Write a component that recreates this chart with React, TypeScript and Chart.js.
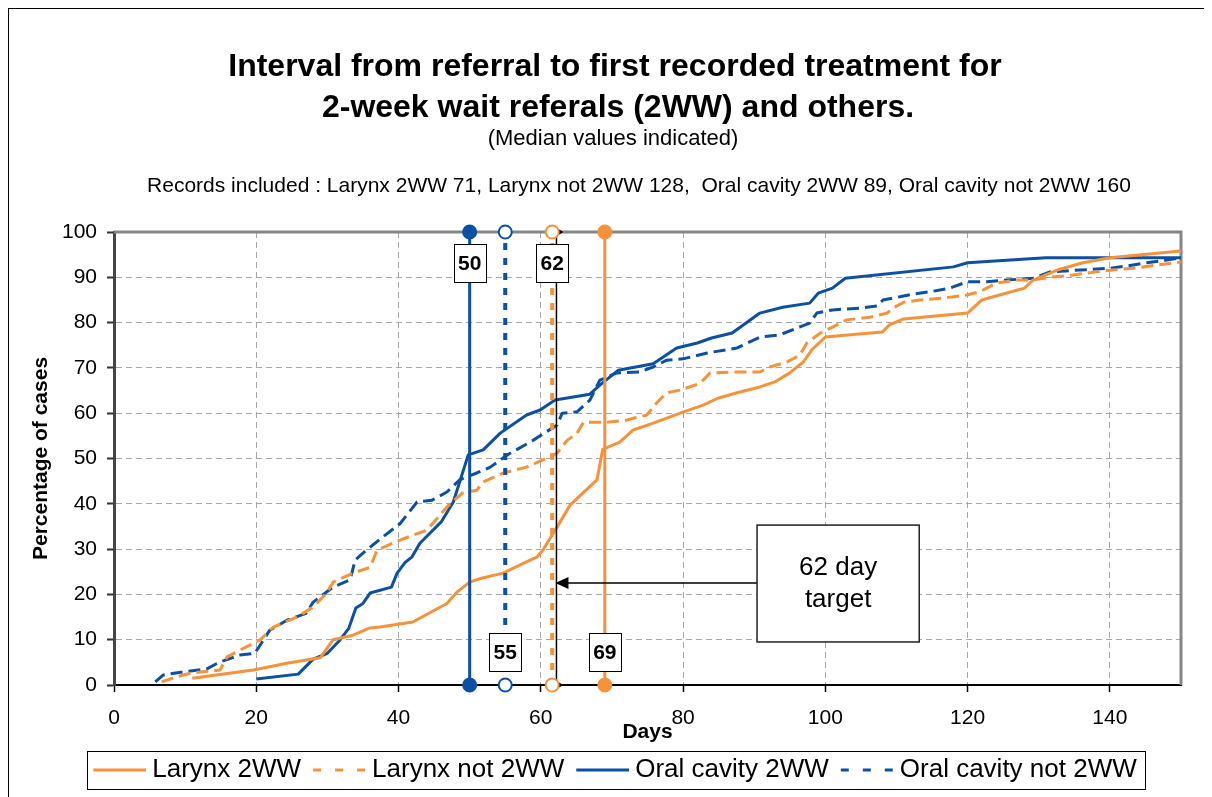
import React, { useEffect, useRef } from 'react';
import { Chart, registerables } from 'chart.js';

Chart.register(...registerables);

const FONT = '"Liberation Sans", Arial, Helvetica, sans-serif';
const ORANGE = '#F5923A';
const BLUE = '#0C50A4';

const TITLE_LINES = [
  'Interval from referral to first recorded treatment for',
  '2-week wait referals (2WW) and others.',
];
const SUBTITLE = '(Median values indicated)';
const RECORDS =
  'Records included : Larynx 2WW 71, Larynx not 2WW 128,  Oral cavity 2WW 89, Oral cavity not 2WW 160';

const SERIES_LABELS = ['Larynx 2WW', 'Larynx not 2WW', 'Oral cavity 2WW', 'Oral cavity not 2WW'];

// Larynx 2WW (days, % of cases)
const LARYNX_2WW_DAYS = [11, 19.6, 24.3, 29, 30.8, 33.6, 36, 37.4, 42, 46.8, 48.2, 50, 51.5, 54.7, 57.1, 59.5, 60.3, 62.3, 64.1, 67.9, 68.7, 71.1, 73, 75.8, 79.6, 82.8, 84.9, 87.6, 90.8, 92.9, 95, 96.9, 98.1, 100, 108, 109, 111, 120, 122, 125, 128, 129.2, 132.6, 136.2, 140, 150];
const LARYNX_2WW_PCT = [1.5, 3.3, 4.8, 6, 10, 11, 12.6, 12.8, 13.9, 18, 20.5, 22.7, 23.5, 24.7, 26.5, 28.3, 29.8, 34.9, 39.7, 45.3, 52, 53.6, 56.3, 57.8, 60, 61.8, 63.3, 64.5, 65.8, 66.9, 68.9, 71.3, 74, 76.8, 77.9, 79.5, 80.8, 82.1, 85, 86.3, 87.6, 89.4, 91.6, 93.2, 94.3, 95.8];

// Larynx not 2WW
const LARYNX_NOT_DAYS = [6.7, 8.8, 10.7, 12.5, 14.9, 15.9, 17.7, 20.5, 22.4, 25.7, 28, 29.9, 30.8, 33.6, 36, 37, 40.2, 44, 46.8, 49, 51, 51.9, 54.7, 58, 60.3, 62.3, 63.7, 65.1, 66, 69.3, 72.1, 74.9, 76.3, 77.7, 79.6, 82.4, 83.8, 87, 90.8, 92.2, 94.6, 96.4, 97.4, 99.3, 101, 103, 106.3, 108.7, 109.5, 111, 113.3, 116.6, 119.9, 121.7, 124, 127, 129, 131.6, 134.8, 138, 140.4, 143.3, 146.6, 149, 150];
const LARYNX_NOT_PCT = [0.7, 1.8, 2.6, 2.9, 3.3, 6.2, 7.7, 9.9, 12.8, 15, 17.2, 20.3, 22.7, 24.7, 26, 29.8, 32, 34.2, 39.3, 42.4, 43, 44.8, 46.8, 48.1, 49.7, 51.2, 54, 55.6, 58, 58, 58.5, 59.6, 62.3, 64.5, 65.1, 66.6, 68.9, 69.1, 69.1, 70.2, 71.3, 72.8, 75.5, 77.7, 79, 80.6, 81.2, 82.1, 83.2, 84.5, 85, 85.4, 86.1, 86.8, 88.7, 89.4, 89.4, 90, 90.5, 91.2, 91.6, 92, 92.7, 93.2, 93.4];

// Oral cavity 2WW
const ORAL_2WW_DAYS = [20, 25.9, 28, 30, 31.8, 33, 34, 35, 36, 39, 39.8, 40.9, 41.9, 43, 44.4, 46, 47.7, 49.8, 51.9, 54.3, 58, 59.9, 62, 66.9, 68.3, 70.9, 75.8, 79.1, 82, 84, 86.9, 90.8, 94, 97.8, 99, 101, 102.8, 118, 120, 131, 150];
const ORAL_2WW_PCT = [1.3, 2.4, 5.7, 7, 10, 12.5, 17, 18, 20.3, 21.6, 24.7, 27, 28.3, 31.3, 33.5, 36, 40.4, 50.8, 51.9, 55.6, 59.6, 60.7, 62.9, 64.2, 66.2, 69.5, 70.9, 74.4, 75.5, 76.6, 77.7, 82.1, 83.4, 84.3, 86.5, 87.6, 89.8, 92.3, 93.2, 94.3, 94.3];

// Oral cavity not 2WW
const ORAL_NOT_DAYS = [5.8, 6.9, 9.7, 13, 14.9, 17.7, 19.8, 21.9, 24.3, 27, 28, 30.8, 33.2, 33.9, 35.5, 37.8, 40.2, 42.6, 44.7, 46.8, 48.6, 51, 52.9, 55.3, 58.9, 62.3, 63, 65.1, 66.9, 68.3, 70.7, 73.9, 75.8, 77.7, 80, 83.4, 87.6, 90.8, 93.6, 97.8, 98.8, 101, 104.9, 107.3, 108.1, 110.5, 112.3, 114.7, 117.5, 119.9, 122.7, 125.5, 129.2, 131.6, 135.8, 140, 142.4, 145.2, 148, 150];
const ORAL_NOT_PCT = [0.7, 2.2, 2.9, 3.5, 5.1, 6.6, 7, 12.1, 14.3, 15.8, 18.3, 21.6, 23.2, 27.6, 29.8, 32.7, 35.6, 40.4, 40.8, 42.6, 45.3, 46.8, 48.1, 50.8, 54, 57.4, 60, 60.3, 62.9, 67.3, 68.9, 69.1, 70.2, 71.7, 72, 73.3, 74.4, 76.8, 77.3, 79.9, 82.1, 82.8, 83.2, 83.7, 85, 85.7, 86.3, 86.8, 87.6, 89, 89, 89.4, 89.8, 91.2, 91.6, 92, 92.5, 93.2, 93.8, 94.3];

// Median days (line positions) and their labels: Oral 2WW, Oral not 2WW, Larynx not 2WW, Larynx 2WW
const MEDIAN_DAYS = [50, 55, 61.6, 69];
const MEDIAN_LABELS = ['50', '55', '62', '69'];
const MEDIAN_LABEL_AT_TOP = [true, false, true, false];

const TARGET_DAY = 62.2;
const TARGET_TEXT = ['62 day', 'target'];
const TARGET_ARROW_PCT = 22.5;
const TARGET_BOX_DAYS = [90.4, 113.2];
const TARGET_BOX_PCT = [9.5, 35.3];

const X_TICK_STEP = 20;
const Y_TICK_STEP = 10;

const zip = (xs: number[], ys: number[]) => xs.map((x, i) => ({ x, y: ys[i] }));

function makeLegendImage(color: string, dash: number[]) {
  const c = document.createElement('canvas');
  c.width = 60;
  c.height = 8;
  const g = c.getContext('2d')!;
  g.strokeStyle = color;
  g.lineWidth = 3;
  g.setLineDash(dash);
  g.beginPath();
  g.moveTo(7, 4);
  g.lineTo(60, 4);
  g.stroke();
  return c;
}

const framePlugin = {
  id: 'frame',
  beforeDatasetsDraw(chart: any) {
    const { ctx, chartArea: a } = chart;
    ctx.save();
    ctx.strokeStyle = '#858585';
    ctx.lineWidth = 3;
    ctx.beginPath();
    ctx.moveTo(a.left, a.top);
    ctx.lineTo(a.right, a.top);
    ctx.lineTo(a.right, a.bottom);
    ctx.stroke();
    ctx.restore();
  },
  afterDatasetsDraw(chart: any) {
    const { ctx, chartArea: a, scales } = chart;
    const xs = scales.x;
    const ys = scales.y;
    ctx.save();
    // median label boxes
    ctx.font = `bold 21px ${FONT}`;
    ctx.textAlign = 'center';
    ctx.textBaseline = 'middle';
    MEDIAN_DAYS.forEach((d, i) => {
      const cx = xs.getPixelForValue(d);
      const w = 32;
      const h = 38;
      const top = MEDIAN_LABEL_AT_TOP[i] ? a.top + 12 : a.bottom - 52;
      ctx.fillStyle = '#fff';
      ctx.fillRect(cx - w / 2, top, w, h);
      ctx.strokeStyle = '#000';
      ctx.lineWidth = 1;
      ctx.strokeRect(Math.round(cx - w / 2) + 0.5, Math.round(top) + 0.5, w, h);
      ctx.fillStyle = '#000';
      ctx.fillText(MEDIAN_LABELS[i], cx, top + h / 2 + 1);
    });
    // target annotation
    const bx0 = xs.getPixelForValue(TARGET_BOX_DAYS[0]);
    const bx1 = xs.getPixelForValue(TARGET_BOX_DAYS[1]);
    const by0 = ys.getPixelForValue(TARGET_BOX_PCT[1]);
    const by1 = ys.getPixelForValue(TARGET_BOX_PCT[0]);
    const ay = ys.getPixelForValue(TARGET_ARROW_PCT);
    const tx = xs.getPixelForValue(TARGET_DAY);
    ctx.strokeStyle = '#000';
    ctx.lineWidth = 1.5;
    ctx.beginPath();
    ctx.moveTo(bx0, ay);
    ctx.lineTo(tx + 10, ay);
    ctx.stroke();
    ctx.fillStyle = '#000';
    ctx.beginPath();
    ctx.moveTo(tx - 1, ay);
    ctx.lineTo(tx + 12, ay - 6);
    ctx.lineTo(tx + 12, ay + 6);
    ctx.closePath();
    ctx.fill();
    ctx.fillStyle = '#fff';
    ctx.fillRect(bx0, by0, bx1 - bx0, by1 - by0);
    ctx.strokeStyle = '#222';
    ctx.lineWidth = 1.5;
    ctx.strokeRect(bx0, by0, bx1 - bx0, by1 - by0);
    ctx.fillStyle = '#000';
    ctx.font = `26px ${FONT}`;
    const cy = (by0 + by1) / 2;
    ctx.fillText(TARGET_TEXT[0], (bx0 + bx1) / 2, cy - 16);
    ctx.fillText(TARGET_TEXT[1], (bx0 + bx1) / 2, cy + 16);
    ctx.restore();
  },
  afterDraw(chart: any) {
    const { ctx } = chart;
    ctx.save();
    ctx.fillStyle = '#000';
    ctx.textAlign = 'center';
    ctx.textBaseline = 'alphabetic';
    ctx.font = `bold 32px ${FONT}`;
    ctx.fillText(TITLE_LINES[0], 606, 67);
    ctx.fillText(TITLE_LINES[1], 609, 108);
    ctx.font = `22px ${FONT}`;
    ctx.fillText(SUBTITLE, 604, 136);
    ctx.font = `21px ${FONT}`;
    ctx.fillText(RECORDS, 630, 183);
    // legend frame
    const lg = chart.legend;
    if (lg && lg.legendHitBoxes && lg.legendHitBoxes.length) {
      const hb = lg.legendHitBoxes;
      const first = hb[0];
      const last = hb[hb.length - 1];
      const left = first.left - 6;
      const right = last.left + last.width + 9;
      const mid = first.top + first.height / 2;
      ctx.strokeStyle = '#000';
      ctx.lineWidth = 1;
      ctx.strokeRect(Math.round(left) + 0.5, Math.round(mid - 19) + 0.5, Math.round(right - left), 38);
    }
    ctx.restore();
  },
};

export default function App() {
  const ref = useRef<HTMLCanvasElement | null>(null);
  useEffect(() => {
    document.documentElement.style.overflow = 'hidden';
    document.body.style.overflow = 'hidden';
    const legendImages = [
      makeLegendImage(ORANGE, []),
      makeLegendImage(ORANGE, [8, 14]),
      makeLegendImage(BLUE, []),
      makeLegendImage(BLUE, [8, 14]),
    ];
    const seriesColors = [ORANGE, ORANGE, BLUE, BLUE];
    const seriesDash = [[], [12, 6], [], [12, 6]];
    const seriesData = [
      zip(LARYNX_2WW_DAYS, LARYNX_2WW_PCT),
      zip(LARYNX_NOT_DAYS, LARYNX_NOT_PCT),
      zip(ORAL_2WW_DAYS, ORAL_2WW_PCT),
      zip(ORAL_NOT_DAYS, ORAL_NOT_PCT),
    ];
    const seriesSets = SERIES_LABELS.map((label, i) => ({
      label,
      data: seriesData[i],
      borderColor: seriesColors[i],
      backgroundColor: seriesColors[i],
      borderWidth: 3,
      borderDash: seriesDash[i],
      borderJoinStyle: 'round' as const,
      pointRadius: 0,
      tension: 0,
      order: 5,
    }));
    const medianColors = [BLUE, BLUE, ORANGE, ORANGE];
    const medianFilled = [true, false, false, true];
    const medianSets = MEDIAN_DAYS.map((d, i) => ({
      label: 'median ' + MEDIAN_LABELS[i],
      data: [
        { x: d, y: 0 },
        { x: d, y: 100 },
      ],
      borderColor: medianColors[i],
      backgroundColor: medianColors[i],
      borderWidth: medianFilled[i] ? 3 : 4,
      borderDash: medianFilled[i] ? [] : [7, 8],
      pointRadius: 6.5,
      pointBorderWidth: 2,
      pointBackgroundColor: medianFilled[i] ? medianColors[i] : '#fff',
      pointBorderColor: medianColors[i],
      tension: 0,
      clip: false as const,
      order: 1,
    }));
    const targetSet = {
      label: 'target',
      data: [
        { x: TARGET_DAY, y: 0 },
        { x: TARGET_DAY, y: 100 },
      ],
      borderColor: '#000',
      backgroundColor: '#000',
      borderWidth: 1.5,
      pointStyle: 'triangle' as const,
      rotation: 90,
      pointRadius: 7,
      pointBorderWidth: 0,
      pointBackgroundColor: '#000',
      clip: false as const,
      order: 3,
    };

    const chart = new Chart(ref.current as HTMLCanvasElement, {
      type: 'line',
      data: { datasets: [...seriesSets, targetSet, ...medianSets] as any },
      options: {
        responsive: false,
        animation: false,
        devicePixelRatio: 1,
        events: [],
        layout: { padding: { top: 223, left: 9, right: 0, bottom: 4 } },
        plugins: {
          tooltip: { enabled: false },
          title: { display: false },
          legend: {
            position: 'bottom',
            labels: {
              usePointStyle: true,
              pointStyleWidth: 46,
              padding: 12,
              color: '#000',
              font: { size: 26, family: FONT },
              generateLabels: () =>
                SERIES_LABELS.map((text, i) => ({
                  text,
                  pointStyle: legendImages[i] as any,
                  fillStyle: seriesColors[i],
                  strokeStyle: seriesColors[i],
                  lineWidth: 0,
                  hidden: false,
                  datasetIndex: i,
                })),
            },
          },
        },
        scales: {
          x: {
            type: 'linear',
            min: 0,
            max: 150,
            ticks: {
              stepSize: X_TICK_STEP,
              includeBounds: false,
              padding: 14,
              color: '#000',
              maxRotation: 0,
              font: { size: 21, family: FONT },
            },
            grid: { color: '#a8a8a8', lineWidth: 1, tickLength: 7, tickColor: '#000', tickWidth: 1.5 },
            border: { display: true, color: '#000', width: 2, dash: [6, 4] },
            title: {
              display: true,
              text: 'Days',
              color: '#000',
              font: { size: 21, weight: 'bold', family: FONT },
              padding: { top: 0, bottom: 0 },
            },
            afterFit: (s: any) => {
              s.height = 60;
              s.paddingRight = 31;
            },
          },
          y: {
            type: 'linear',
            min: 0,
            max: 100,
            ticks: {
              stepSize: Y_TICK_STEP,
              padding: 10,
              color: '#000',
              font: { size: 21, family: FONT },
            },
            grid: { color: '#a8a8a8', lineWidth: 1, tickLength: 7, tickColor: '#333', tickWidth: 2 },
            border: { display: true, color: '#454545', width: 3, dash: [6, 4] },
            title: {
              display: true,
              text: 'Percentage of cases',
              color: '#000',
              font: { size: 21, weight: 'bold', family: FONT },
              padding: { top: 11, bottom: 0 },
            },
            afterFit: (s: any) => {
              s.width = 96;
            },
          },
        },
      },
      plugins: [framePlugin],
    } as any);
    return () => chart.destroy();
  }, []);

  return (
    <div
      style={{
        width: 1204,
        height: 789,
        borderTop: '1px solid #000',
        borderLeft: '1px solid #000',
        boxSizing: 'border-box',
        overflow: 'hidden',
        background: '#fff',
      }}
    >
      <canvas ref={ref} width={1203} height={788} style={{ display: 'block' }} />
    </div>
  );
}
